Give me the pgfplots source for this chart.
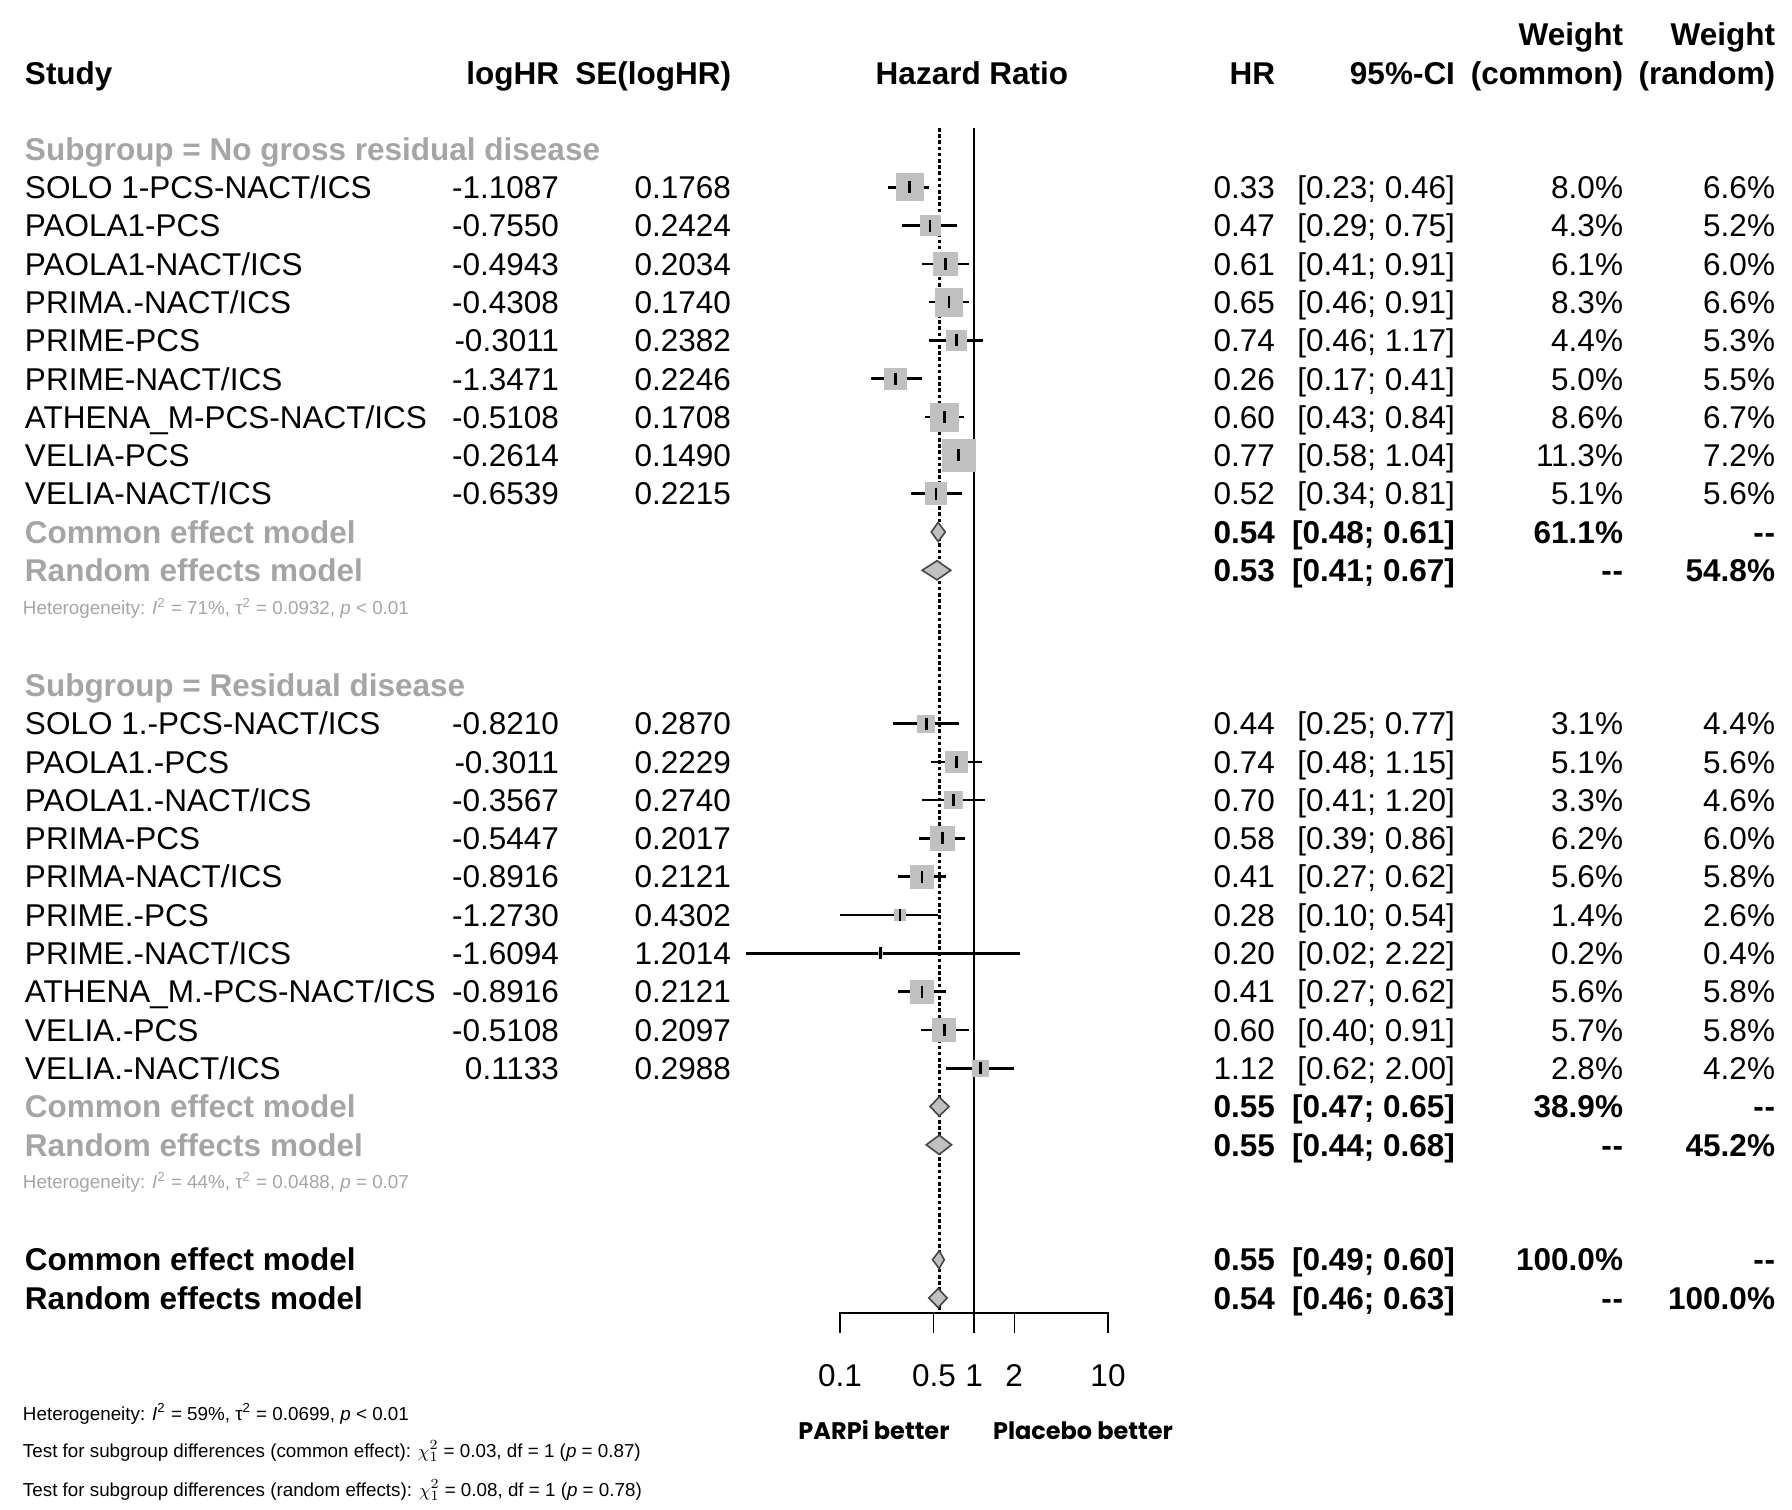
\documentclass[border=0pt]{standalone}
\usepackage{pgfplots}
\pgfplotsset{compat=1.18}
\usepackage{pgfplotstable}
\usepackage{fontspec}
\setmainfont{Liberation Sans}
\newfontfamily\geo{Poppins}
\definecolor{sqgray}{RGB}{192,192,192}
\definecolor{subgray}{RGB}{165,165,165}
\definecolor{dia}{RGB}{70,70,70}

% rows: y position in row units (0 = first subgroup heading)
\pgfplotstableread{
row hr lo hi wc
1 0.33 0.23 0.46 8.0
2 0.47 0.29 0.75 4.3
3 0.61 0.41 0.91 6.1
4 0.65 0.46 0.91 8.3
5 0.74 0.46 1.17 4.4
6 0.26 0.17 0.41 5.0
7 0.60 0.43 0.84 8.6
8 0.77 0.58 1.04 11.3
9 0.52 0.34 0.81 5.1
}\tabA
\pgfplotstableread{
row hr lo hi wc
15 0.44 0.25 0.77 3.1
16 0.74 0.48 1.15 5.1
17 0.70 0.41 1.20 3.3
18 0.58 0.39 0.86 6.2
19 0.41 0.27 0.62 5.6
20 0.28 0.10 0.54 1.4
21 0.20 0.02 2.22 0.2
22 0.41 0.27 0.62 5.6
23 0.60 0.40 0.91 5.7
24 1.12 0.62 2.00 2.8
}\tabB

\newcommand\mainfont{\fontsize{15.75}{18}\selectfont}
\newcommand\smallf{\fontsize{9.4}{11}\selectfont}
\newcommand\dd{-\kern0.02em-}

\pgfplotsset{
  sqstyle/.style={scatter, only marks, mark=square*,
    scatter/use mapped color={draw=sqgray, fill=sqgray},
    visualization depends on={2.4*sqrt(\thisrow{wc}) \as \msize},
    scatter/@pre marker code/.append style={/tikz/mark size=\msize}},
  cistyle/.style={only marks, mark=|, mark size=3pt, mark options={black, line width=1.3pt, solid},
    error bars/.cd, x dir=both, x explicit, error mark=none,
    error bar style={black, line width=1.3pt}},
  diastyle/.style={fill=sqgray, draw=dia, line width=0.8pt}
}

% study row: k, name, logHR, SE, HR, CI, wc, wr
\newcommand\srow[8]{%
 \node[anchor=base west] at (25,{160.3+38.3*#1}) {#2};
 \node[anchor=base east] at (559,{160.3+38.3*#1}) {#3};
 \node[anchor=base east] at (731,{160.3+38.3*#1}) {#4};
 \node[anchor=base east] at (1275,{160.3+38.3*#1}) {#5};
 \node[anchor=base east] at (1455,{160.3+38.3*#1}) {#6};
 \node[anchor=base east] at (1623,{160.3+38.3*#1}) {#7};
 \node[anchor=base east] at (1775,{160.3+38.3*#1}) {#8};
}
% model row: k, label colour, label, HR, CI, wc, wr
\newcommand\mrow[7]{%
 \node[anchor=base west, text=#2, font=\mainfont\bfseries] at (25,{160.3+38.3*#1}) {#3};
 \node[anchor=base east, font=\mainfont\bfseries] at (1275,{160.3+38.3*#1}) {#4};
 \node[anchor=base east, font=\mainfont\bfseries] at (1455,{160.3+38.3*#1}) {#5};
 \node[anchor=base east, font=\mainfont\bfseries] at (1623,{160.3+38.3*#1}) {#6};
 \node[anchor=base east, font=\mainfont\bfseries] at (1775,{160.3+38.3*#1}) {#7};
}

\begin{document}
\begin{tikzpicture}
\begin{axis}[at={(0,0)}, anchor=south west, scale only axis,
  width=896pt, height=754.5pt,
  xmode=log, xmin=5.386e-8, xmax=1.2718e6,
  ymin=-3.890, ymax=35.509, y dir=reverse,
  hide axis, clip=false]
% reference lines
\addplot[black, line width=0.75pt] coordinates {(1,-0.55) (1,30.39)};
\addplot[black, line width=1.3pt, dash pattern=on 1.8pt off 1.3pt] coordinates {(0.55,-0.55) (0.55,30.3)};
% x axis
\addplot[black, line width=0.75pt] coordinates {(0.1,30.91) (0.1,30.39) (10,30.39) (10,30.91)};
\addplot[black, line width=0.75pt] coordinates {(0.5,30.39) (0.5,30.91)};
\addplot[black, line width=0.75pt] coordinates {(1,30.39) (1,30.91)};
\addplot[black, line width=0.75pt] coordinates {(2,30.39) (2,30.91)};
% squares and CIs
\addplot[sqstyle] table[x=hr, y=row] {\tabA};
\addplot[sqstyle] table[x=hr, y=row] {\tabB};
\addplot[cistyle] table[x=hr, y=row, x error plus expr=\thisrow{hi}-\thisrow{hr},
        x error minus expr=\thisrow{hr}-\thisrow{lo}] {\tabA};
\addplot[cistyle] table[x=hr, y=row, x error plus expr=\thisrow{hi}-\thisrow{hr},
        x error minus expr=\thisrow{hr}-\thisrow{lo}] {\tabB};
% diamonds
\addplot[diastyle] coordinates {(0.48,10) (0.54,9.75) (0.61,10) (0.54,10.25)} -- cycle;
\addplot[diastyle] coordinates {(0.41,11) (0.53,10.75) (0.67,11) (0.53,11.25)} -- cycle;
\addplot[diastyle] coordinates {(0.47,25) (0.55,24.75) (0.65,25) (0.55,25.25)} -- cycle;
\addplot[diastyle] coordinates {(0.44,26) (0.55,25.75) (0.68,26) (0.55,26.25)} -- cycle;
\addplot[diastyle] coordinates {(0.49,29) (0.55,28.77) (0.60,29) (0.55,29.23)} -- cycle;
\addplot[diastyle] coordinates {(0.46,30) (0.54,29.75) (0.63,30) (0.54,30.25)} -- cycle;
\end{axis}

\begin{scope}[x=0.5pt, y=-0.5pt, shift={(0pt,754.5pt)},
  every node/.style={inner sep=0pt, outer sep=0pt, font=\mainfont}]
\path (0,0) rectangle (1792,1509);
% header
\node[anchor=base west, font=\mainfont\bfseries] at (25,85) {Study};
\node[anchor=base east, font=\mainfont\bfseries] at (559,85) {logHR};
\node[anchor=base east, font=\mainfont\bfseries] at (731,85) {SE(logHR)};
\node[anchor=base, font=\mainfont\bfseries] at (972,85) {Hazard Ratio};
\node[anchor=base east, font=\mainfont\bfseries] at (1275,85) {HR};
\node[anchor=base east, font=\mainfont\bfseries] at (1455,85) {95\%-CI};
\node[anchor=base east, font=\mainfont\bfseries] at (1623,46) {Weight};
\node[anchor=base east, font=\mainfont\bfseries] at (1623,85) {(common)};
\node[anchor=base east, font=\mainfont\bfseries] at (1775,46) {Weight};
\node[anchor=base east, font=\mainfont\bfseries] at (1775,85) {(random)};
% subgroup 1
\node[anchor=base west, text=subgray, font=\mainfont\bfseries] at (25,160.3) {Subgroup = No gross residual disease};
\srow{1}{SOLO 1-PCS-NACT/ICS}{-1.1087}{0.1768}{0.33}{[0.23; 0.46]}{8.0\%}{6.6\%}
\srow{2}{PAOLA1-PCS}{-0.7550}{0.2424}{0.47}{[0.29; 0.75]}{4.3\%}{5.2\%}
\srow{3}{PAOLA1-NACT/ICS}{-0.4943}{0.2034}{0.61}{[0.41; 0.91]}{6.1\%}{6.0\%}
\srow{4}{PRIMA.-NACT/ICS}{-0.4308}{0.1740}{0.65}{[0.46; 0.91]}{8.3\%}{6.6\%}
\srow{5}{PRIME-PCS}{-0.3011}{0.2382}{0.74}{[0.46; 1.17]}{4.4\%}{5.3\%}
\srow{6}{PRIME-NACT/ICS}{-1.3471}{0.2246}{0.26}{[0.17; 0.41]}{5.0\%}{5.5\%}
\srow{7}{ATHENA\_M-PCS-NACT/ICS}{-0.5108}{0.1708}{0.60}{[0.43; 0.84]}{8.6\%}{6.7\%}
\srow{8}{VELIA-PCS}{-0.2614}{0.1490}{0.77}{[0.58; 1.04]}{11.3\%}{7.2\%}
\srow{9}{VELIA-NACT/ICS}{-0.6539}{0.2215}{0.52}{[0.34; 0.81]}{5.1\%}{5.6\%}
\mrow{10}{subgray}{Common effect model}{0.54}{[0.48; 0.61]}{61.1\%}{\dd}
\mrow{11}{subgray}{Random effects model}{0.53}{[0.41; 0.67]}{\dd}{54.8\%}
\node[anchor=base west, text=subgray, font=\smallf] at (23,615) {Heterogeneity: \textit{I}\textsuperscript{2} = 71\%, τ\textsuperscript{2} = 0.0932, \textit{p} < 0.01};
% subgroup 2
\node[anchor=base west, text=subgray, font=\mainfont\bfseries] at (25,{160.3+38.3*14}) {Subgroup = Residual disease};
\srow{15}{SOLO 1.-PCS-NACT/ICS}{-0.8210}{0.2870}{0.44}{[0.25; 0.77]}{3.1\%}{4.4\%}
\srow{16}{PAOLA1.-PCS}{-0.3011}{0.2229}{0.74}{[0.48; 1.15]}{5.1\%}{5.6\%}
\srow{17}{PAOLA1.-NACT/ICS}{-0.3567}{0.2740}{0.70}{[0.41; 1.20]}{3.3\%}{4.6\%}
\srow{18}{PRIMA-PCS}{-0.5447}{0.2017}{0.58}{[0.39; 0.86]}{6.2\%}{6.0\%}
\srow{19}{PRIMA-NACT/ICS}{-0.8916}{0.2121}{0.41}{[0.27; 0.62]}{5.6\%}{5.8\%}
\srow{20}{PRIME.-PCS}{-1.2730}{0.4302}{0.28}{[0.10; 0.54]}{1.4\%}{2.6\%}
\srow{21}{PRIME.-NACT/ICS}{-1.6094}{1.2014}{0.20}{[0.02; 2.22]}{0.2\%}{0.4\%}
\srow{22}{ATHENA\_M.-PCS-NACT/ICS}{-0.8916}{0.2121}{0.41}{[0.27; 0.62]}{5.6\%}{5.8\%}
\srow{23}{VELIA.-PCS}{-0.5108}{0.2097}{0.60}{[0.40; 0.91]}{5.7\%}{5.8\%}
\srow{24}{VELIA.-NACT/ICS}{0.1133}{0.2988}{1.12}{[0.62; 2.00]}{2.8\%}{4.2\%}
\mrow{25}{subgray}{Common effect model}{0.55}{[0.47; 0.65]}{38.9\%}{\dd}
\mrow{26}{subgray}{Random effects model}{0.55}{[0.44; 0.68]}{\dd}{45.2\%}
\node[anchor=base west, text=subgray, font=\smallf] at (23,1189) {Heterogeneity: \textit{I}\textsuperscript{2} = 44\%, τ\textsuperscript{2} = 0.0488, \textit{p} = 0.07};
% overall
\mrow{29}{black}{Common effect model}{0.55}{[0.49; 0.60]}{100.0\%}{\dd}
\mrow{30}{black}{Random effects model}{0.54}{[0.46; 0.63]}{\dd}{100.0\%}
% tick labels
\node[anchor=base] at (840,1386) {0.1};
\node[anchor=base] at (934,1386) {0.5};
\node[anchor=base] at (974,1386) {1};
\node[anchor=base] at (1014,1386) {2};
\node[anchor=base] at (1108,1386) {10};
\node[anchor=base, font=\geo\fontsize{12}{14}\selectfont\bfseries] at (874,1439) {PARPi better};
\node[anchor=base, font=\geo\fontsize{12}{14}\selectfont\bfseries] at (1083,1439) {Placebo better};
% footer
\node[anchor=base west, font=\smallf] at (23,1420) {Heterogeneity: \textit{I}\textsuperscript{2} = 59\%, τ\textsuperscript{2} = 0.0699, \textit{p} < 0.01};
\node[anchor=base west, font=\smallf] at (23,1457) {Test for subgroup differences (common effect): $\chi^{2}_{1}$ = 0.03, df = 1 (\textit{p} = 0.87)};
\node[anchor=base west, font=\smallf] at (23,1496) {Test for subgroup differences (random effects): $\chi^{2}_{1}$ = 0.08, df = 1 (\textit{p} = 0.78)};
\end{scope}
\end{tikzpicture}
\end{document}
